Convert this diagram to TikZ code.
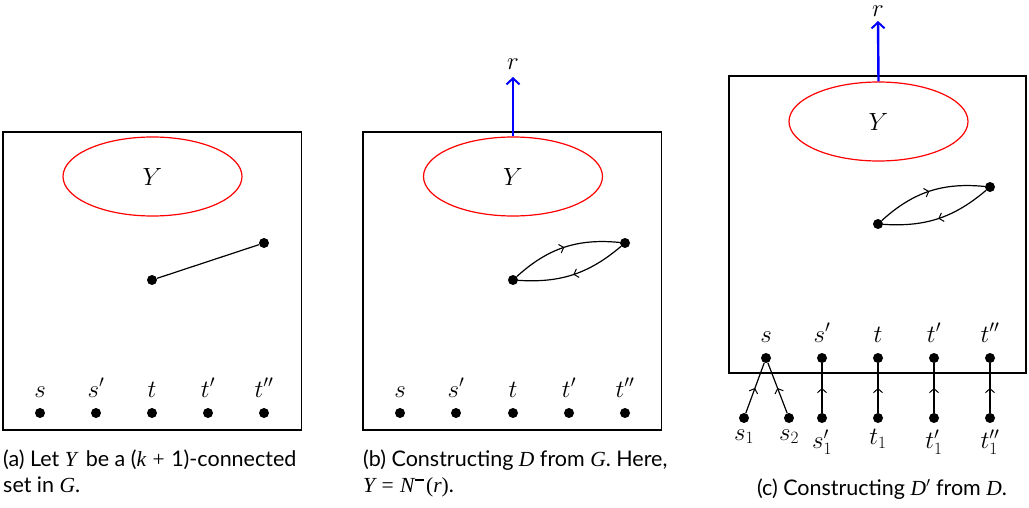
\documentclass[tikz,border=0pt]{standalone}
\usepackage{fontspec}
\setsansfont{Lato}
\newfontfamily\capmath{Liberation Serif}
\newcommand{\mi}[1]{{\capmath\itshape #1}}
\newcommand{\mr}[1]{{\capmath #1}}
\usetikzlibrary{arrows.meta,decorations.markings,shapes.geometric}
\tikzset{
  dotn/.style={circle,fill=black,inner sep=0pt,minimum size=10pt},
  lbl/.style={font=\fontsize{27}{30}\selectfont,inner sep=0pt},
  captxt/.style={font=\sffamily\fontsize{21.5}{26}\selectfont,inner sep=0pt},
  panelbox/.style={draw=black,line width=1.3pt},
  yset/.style={draw=red,line width=1.2pt,ellipse,minimum width=179pt,minimum height=79pt,inner sep=0pt,font=\fontsize{27}{30}\selectfont},
  lnk/.style={line width=1.2pt},
  midarrow/.style={postaction={decorate},decoration={markings,mark=at position 0.5 with {\arrow{Straight Barb[length=4pt,width=9pt,line width=1pt]}}}},
  rootarrow/.style={draw=blue,line width=2.4pt,-{Straight Barb[length=6pt,width=13pt,line width=2pt]}}
}
\begin{document}
\begin{tikzpicture}[x=1pt,y=-1pt]
\useasboundingbox (0,0) rectangle (1029,508);
% ---------- panel (a)
\draw[panelbox] (3,132) rectangle (301.5,430);
\node[yset] (aY) at (152.5,176.5) {$Y$};
\node[dotn] (au) at (152,280) {};
\node[dotn] (av) at (264,243) {};
\draw[lnk] (au) -- (av);
\foreach \n/\x/\t in {as/40/s, asp/96/s', at/152/t, atp/208/t', atpp/264/t''}{
  \node[dotn] (\n) at (\x,413) {};
  \node[lbl,anchor=base] at (\x,397) {$\t$};
}
\node[captxt,anchor=base west] (capa1) at (3,466) {(a) Let \mi{Y}\, be a (\mi{k}\hspace{0.3em}\mr{+}\hspace{0.3em}1)-connected};
\node[captxt,anchor=base west] (capa2) at (3,492) {set in \mi{G}.};
% ---------- panel (b)
\draw[panelbox] (363,132) rectangle (661.5,430);
\node[yset] (bY) at (513,176.5) {$Y$};
\node[dotn] (bu) at (513,280) {};
\node[dotn] (bv) at (625,243) {};
\draw[lnk,midarrow] (bu) to[bend left=24] (bv);
\draw[lnk,midarrow] (bv) to[bend left=22] (bu);
\coordinate (br) at (513,77);
\draw[rootarrow] (bY.north) -- (br);
\node[lbl,anchor=base] (brl) at (513,70) {$r$};
\foreach \n/\x/\t in {bs/400/s, bsp/456/s', bt/513/t, btp/569/t', btpp/625/t''}{
  \node[dotn] (\n) at (\x,413) {};
  \node[lbl,anchor=base] at (\x,397) {$\t$};
}
\node[captxt,anchor=base west] (capb1) at (363,466) {(b) Constructing \mi{D} from \mi{G}. Here,};
\node[captxt,anchor=base west] (capb2) at (363,492) {\mi{Y}\hspace{0.3em}\mr{=}\hspace{0.3em}\mi{N}\raisebox{0.5em}{\rule{0.42em}{0.09em}}\hspace{0.12em}\mr{(}\mi{r}\mr{)}.};
% ---------- panel (c)
\draw[panelbox] (729,76) rectangle (1026,373);
\node[yset] (cY) at (878.5,121.5) {$Y$};
\node[dotn] (cu) at (878,224) {};
\node[dotn] (cv) at (990,187) {};
\draw[lnk,midarrow] (cu) to[bend left=24] (cv);
\draw[lnk,midarrow] (cv) to[bend left=22] (cu);
\coordinate (cr) at (878,21);
\draw[rootarrow] (cY.north) -- (cr);
\node[lbl,anchor=base] (crl) at (878,17) {$r$};
\foreach \n/\x/\t in {cs/766/s, csp/822/s', ct/878/t, ctp/934/t', ctpp/990/t''}{
  \node[dotn] (\n) at (\x,358) {};
  \node[lbl,anchor=base] at (\x,342) {$\t$};
}
\node[dotn] (cs1) at (744,418) {};
\node[dotn] (cs2) at (789,418) {};
\node[dotn] (csp1) at (822,418) {};
\node[dotn] (ct1) at (878,418) {};
\node[dotn] (ctp1) at (934,418) {};
\node[dotn] (ctpp1) at (990,418) {};
\draw[lnk,midarrow] (cs1) -- (cs);
\draw[lnk,midarrow] (cs2) -- (cs);
\draw[lnk,midarrow] (csp1) -- (csp);
\draw[lnk,midarrow] (ct1) -- (ct);
\draw[lnk,midarrow] (ctp1) -- (ctp);
\draw[lnk,midarrow] (ctpp1) -- (ctpp);
\node[lbl,anchor=north,yshift=-6pt] at (cs1.south) {$s_1$};
\node[lbl,anchor=north,yshift=-6pt] at (cs2.south) {$s_2$};
\node[lbl,anchor=north,yshift=-6pt] at (csp1.south) {$s'_1$};
\node[lbl,anchor=north,yshift=-6pt] at (ct1.south) {$t_1$};
\node[lbl,anchor=north,yshift=-6pt] at (ctp1.south) {$t'_1$};
\node[lbl,anchor=north,yshift=-6pt] at (ctpp1.south) {$t''_1$};
\node[captxt,anchor=base] (capc) at (882,495) {(c) Constructing \mi{D}\mr{$'$} from \mi{D}.};
\end{tikzpicture}
\end{document}
